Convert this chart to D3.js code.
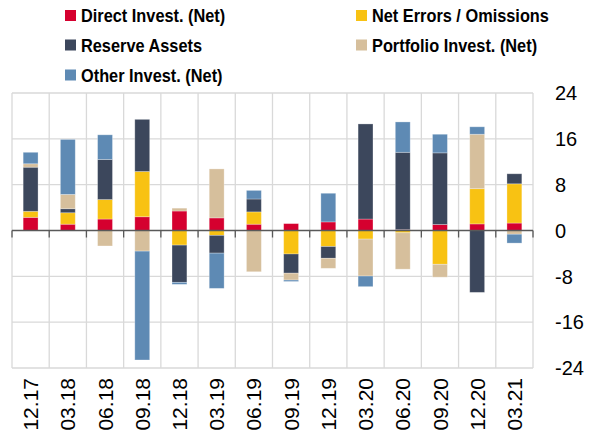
<!DOCTYPE html>
<html><head><meta charset="utf-8">
<script src="https://cdn.jsdelivr.net/npm/d3@7"></script>
<style>
html,body{margin:0;padding:0;background:#fff;}
svg{display:block;}
</style></head>
<body>
<svg id="chart" width="601" height="439"></svg>
<script>
const categories = ["12.17","03.18","06.18","09.18","12.18","03.19","06.19","09.19","12.19","03.20","06.20","09.20","12.20","03.21"];
const seriesNames = ["Direct Invest. (Net)","Net Errors / Omissions","Reserve Assets","Portfolio Invest. (Net)","Other Invest. (Net)"];
const seriesColors = ["#D5002F","#F8C213","#3C475C","#D6BF9C","#5E8AB4"];
const direct    = [2.3, 1.1, 2.0, 2.4, 3.4, 2.2, 1.1, 1.2, 1.5, 2.0, 0.15, 1.05, 1.15, 1.3];
const netErrors = [1.05, 2.0, 3.4, 7.9, -2.55, -0.85, 2.15, -4.1, -2.8, -1.5, -0.4, -5.9, 6.15, 6.85];
const reserve   = [7.7, 0.7, 7.0, 9.1, -6.5, -3.1, 2.25, -3.35, -2.05, 16.6, 13.5, 12.5, -10.8, 1.75];
const portfolio = [0.6, 2.5, -2.7, -3.6, 0.5, 8.55, -7.2, -1.2, -1.75, -6.45, -6.35, -2.25, 9.5, -0.65];
const other     = [2.0, 9.6, 4.3, -19.0, -0.35, -6.15, 1.5, -0.25, 5.0, -1.85, 5.3, 3.25, 1.3, -1.55];
const yTicks = [24, 16, 8, 0, -8, -16, -24];

const seriesValues = [direct, netErrors, reserve, portfolio, other];
const rows = categories.map((c, i) => {
  const r = {cat: c};
  seriesNames.forEach((s, j) => r[s] = seriesValues[j][i]);
  return r;
});

const svg = d3.select("#chart");
const pL = 12, pR = 533, pT = 93, pB = 368;

const x = d3.scaleBand().domain(categories).range([pL, pR]).paddingInner(0.6).paddingOuter(0.3);
const y = d3.scaleLinear().domain([-24, 24]).range([pB, pT]);
const step = x.step();
const boundaries = categories.map(c => x(c) - step * 0.3).concat([pR]);

// grid
const grid = svg.append("g");
grid.selectAll("line.h").data(yTicks.filter(t => t !== 0)).join("line")
  .attr("x1", pL).attr("x2", pR)
  .attr("y1", d => y(d)).attr("y2", d => y(d))
  .attr("stroke", "#d9d9d9").attr("stroke-width", 1.3);
grid.selectAll("line.v").data(boundaries).join("line")
  .attr("x1", d => d).attr("x2", d => d)
  .attr("y1", pT).attr("y2", pB)
  .attr("stroke", "#d9d9d9").attr("stroke-width", 1.3);

// bars
const stack = d3.stack().keys(seriesNames).offset(d3.stackOffsetDiverging).order(d3.stackOrderNone);
const stacked = stack(rows);
svg.append("g").selectAll("g").data(stacked).join("g")
  .attr("fill", (d, i) => seriesColors[i])
  .selectAll("rect").data(d => d).join("rect")
  .attr("x", d => x(d.data.cat))
  .attr("width", x.bandwidth())
  .attr("y", d => y(Math.max(d[0], d[1])))
  .attr("height", d => Math.abs(y(d[0]) - y(d[1])))
  .attr("stroke", "#ffffff").attr("stroke-opacity", 0.35).attr("stroke-width", 0.8);

// zero axis
const ax = svg.append("g");
ax.append("line").attr("x1", pL).attr("x2", pR).attr("y1", y(0)).attr("y2", y(0))
  .attr("stroke", "#595959").attr("stroke-width", 1.3);
ax.selectAll("line.t").data(boundaries).join("line")
  .attr("x1", d => d).attr("x2", d => d)
  .attr("y1", y(0)).attr("y2", y(0) + 7)
  .attr("stroke", "#595959").attr("stroke-width", 1.3);

// right axis labels
svg.append("g").selectAll("text").data(yTicks).join("text")
  .attr("x", 555).attr("y", d => y(d)).attr("dy", "0.36em")
  .attr("font-family", "'Liberation Sans', Arial, sans-serif")
  .attr("font-size", 20).attr("fill", "#000")
  .text(d => d);

// x labels
svg.append("g").selectAll("text").data(categories).join("text")
  .attr("transform", d => `translate(${x(d) + x.bandwidth() / 2},378) rotate(-90)`)
  .attr("text-anchor", "end").attr("dy", "0.36em")
  .attr("font-family", "'Liberation Sans', Arial, sans-serif")
  .attr("font-size", 21).attr("fill", "#000")
  .text(d => d);

// legend
const legendPos = [[65, 15.5], [356, 15.5], [65, 45], [356, 45], [65, 75]];
const lg = svg.append("g").selectAll("g").data(seriesNames).join("g")
  .attr("transform", (d, i) => `translate(${legendPos[i][0]},${legendPos[i][1]})`);
lg.append("rect").attr("x", 0).attr("y", -5.5).attr("width", 11).attr("height", 11)
  .attr("fill", (d, i) => seriesColors[i]);
lg.append("text")
  .attr("transform", "translate(16,0) scale(0.86,1)")
  .attr("dy", "0.36em")
  .attr("font-family", "'Liberation Sans', Arial, sans-serif")
  .attr("font-weight", "bold")
  .attr("font-size", 19).attr("fill", "#000")
  .text(d => d);
</script>
</body></html>
